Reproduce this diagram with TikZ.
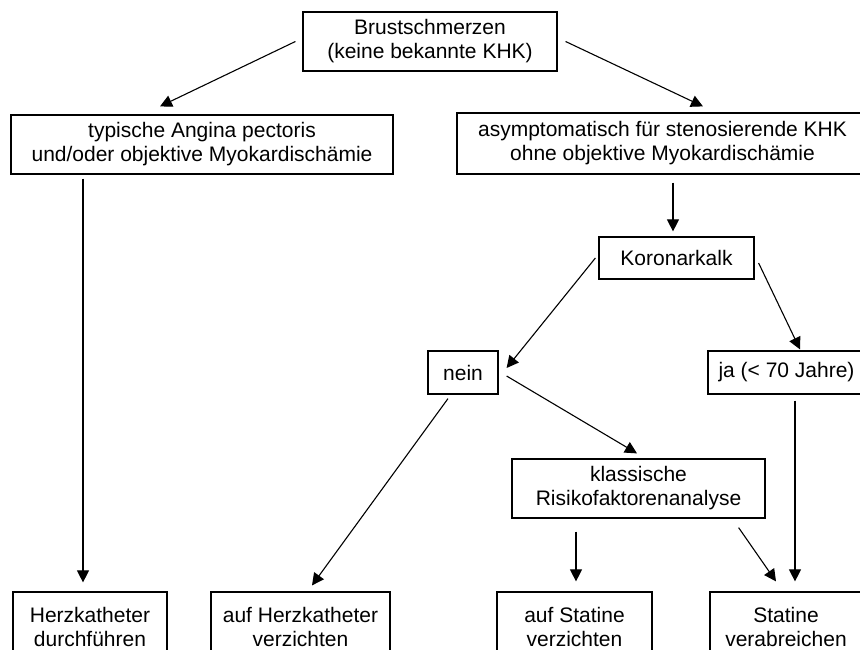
\documentclass[tikz,border=0pt]{standalone}
\usepackage{fontspec}
\setmainfont{Liberation Sans}
\usepackage{tikz}
\usetikzlibrary{arrows.meta,positioning}

\begin{document}
\begin{tikzpicture}[x=1pt, y=-1pt, every node/.style={font=\fontsize{21}{24}\selectfont}]
\tikzset{box/.style={draw, line width=1.2pt, align=center, inner sep=0pt}}
\tikzset{arrow/.style={-{Triangle[length=12pt,width=12pt]}, line width=1.1pt}}
\useasboundingbox (0,0) rectangle (860,650);
\clip (0,0) rectangle (860,650);
% upper part
\node[box, minimum width=254pt, minimum height=59pt] (pain) at (430,41.5) {Brustschmerzen\\(keine bekannte KHK)};
\node[box, minimum width=382pt, minimum height=59pt] (typical) at (202,144.5) {typische Angina pectoris\\und/oder objektive Myokardischämie};
\node[box, minimum width=411pt, minimum height=61pt] (asympt) at (662.5,143.5) {asymptomatisch für stenosierende KHK\\ohne objektive Myokardischämie};
\node[box, minimum width=155pt, minimum height=42pt] (calc) at (676.5,258) {Koronarkalk};
\node[box, minimum width=70pt, minimum height=43pt] (no) at (463,372.5) {nein};
\node[box, minimum width=157pt, minimum height=43pt] (yes) at (786.5,372.5) {ja (< 70 Jahre)};
\node[box, minimum width=253pt, minimum height=59pt] (risk) at (638.5,488.5) {klassische\\Risikofaktorenanalyse};
% bottom row
\node[box, minimum width=154pt, minimum height=70pt] (cath) at (90,627) {Herzkatheter\\durchführen};
\node[box, minimum width=179pt, minimum height=70pt] (nocath) at (300.5,627) {auf Herzkatheter\\verzichten};
\node[box, minimum width=155pt, minimum height=70pt] (nostat) at (574.5,627) {auf Statine\\verzichten};
\node[box, minimum width=152pt, minimum height=70pt] (stat) at (786,627) {Statine\\verabreichen};
% connectors
\draw[arrow] ([xshift=-7pt]pain.west) -- ([xshift=-42pt,yshift=8pt]typical.north);
\draw[arrow] ([xshift=8pt]pain.east) -- ([xshift=40.5pt,yshift=6pt]asympt.north);
\draw[arrow] ([xshift=-119pt,yshift=-4pt]typical.south) -- ([xshift=-7pt,yshift=9pt]cath.north);
\draw[arrow] ([xshift=10.5pt,yshift=-8pt]asympt.south) -- ([xshift=-3.5pt,yshift=5pt]calc.north);
\draw[arrow] ([xshift=-3pt]calc.west) -- ([xshift=8pt,yshift=4.5pt]no.east);
\draw[arrow] ([xshift=4pt,yshift=-5pt]calc.east) -- ([xshift=13.5pt,yshift=1pt]yes.north);
\draw[arrow] ([xshift=8pt,yshift=-3.5pt]no.east) -- ([xshift=-1.5pt,yshift=5pt]risk.north);
\draw[arrow] ([xshift=-15pt,yshift=-4pt]no.south) -- ([xshift=11.5pt,yshift=6pt]nocath.north);
\draw[arrow] ([xshift=-62.5pt,yshift=-13pt]risk.south) -- ([xshift=1.5pt,yshift=10pt]nostat.north);
\draw[arrow] ([xshift=-27pt,yshift=-9pt]risk.south east) -- ([xshift=-10pt,yshift=10pt]stat.north);
\draw[arrow] ([xshift=8.5pt,yshift=-6pt]yes.south) -- ([xshift=9pt,yshift=10pt]stat.north);
\end{tikzpicture}
\end{document}
